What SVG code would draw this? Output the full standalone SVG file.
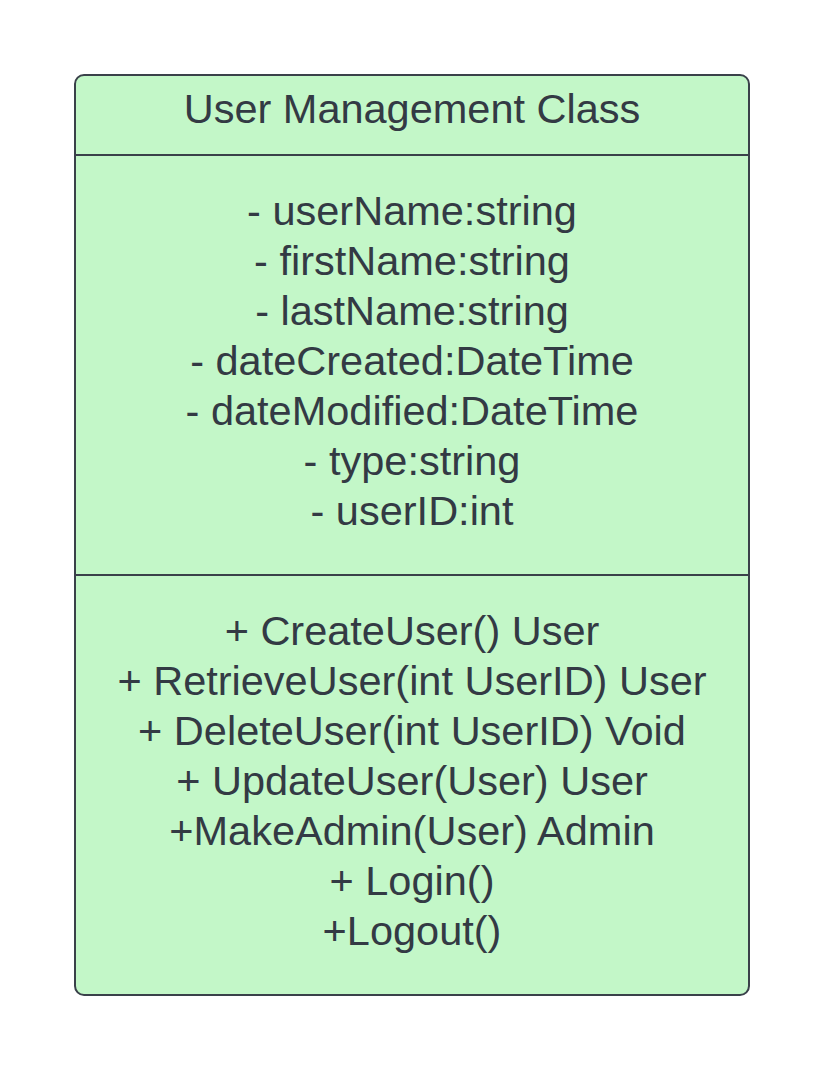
<svg xmlns="http://www.w3.org/2000/svg" width="825" height="1071" viewBox="0 0 825 1071">
<style>
.box{fill:#c3f7c8;stroke:#3a414a;stroke-width:2}
.div{stroke:#3a414a;stroke-width:2}
.t{font-family:"Liberation Sans",Arial,sans-serif;font-size:41.5px;fill:#333a44;text-anchor:middle}
</style>
<rect width="825" height="1071" fill="#ffffff"/>
<g id="user-management-class">
<rect class="box" x="75" y="75" width="674" height="920" rx="9" ry="9"/>
<line class="div" x1="75" y1="155" x2="749" y2="155"/>
<line class="div" x1="75" y1="575" x2="749" y2="575"/>
<text class="t" x="412" y="123">User Management Class</text>
<text class="t" x="412" y="225">- userName:string</text>
<text class="t" x="412" y="275">- firstName:string</text>
<text class="t" x="412" y="325">- lastName:string</text>
<text class="t" x="412" y="375">- dateCreated:DateTime</text>
<text class="t" x="412" y="425">- dateModified:DateTime</text>
<text class="t" x="412" y="475">- type:string</text>
<text class="t" x="412" y="525">- userID:int</text>
<text class="t" x="412" y="645">+ CreateUser() User</text>
<text class="t" x="412" y="695">+ RetrieveUser(int UserID) User</text>
<text class="t" x="412" y="745">+ DeleteUser(int UserID) Void</text>
<text class="t" x="412" y="795">+ UpdateUser(User) User</text>
<text class="t" x="412" y="845">+MakeAdmin(User) Admin</text>
<text class="t" x="412" y="895">+ Login()</text>
<text class="t" x="412" y="945">+Logout()</text>
</g>
<g id="connectors"></g>
</svg>
